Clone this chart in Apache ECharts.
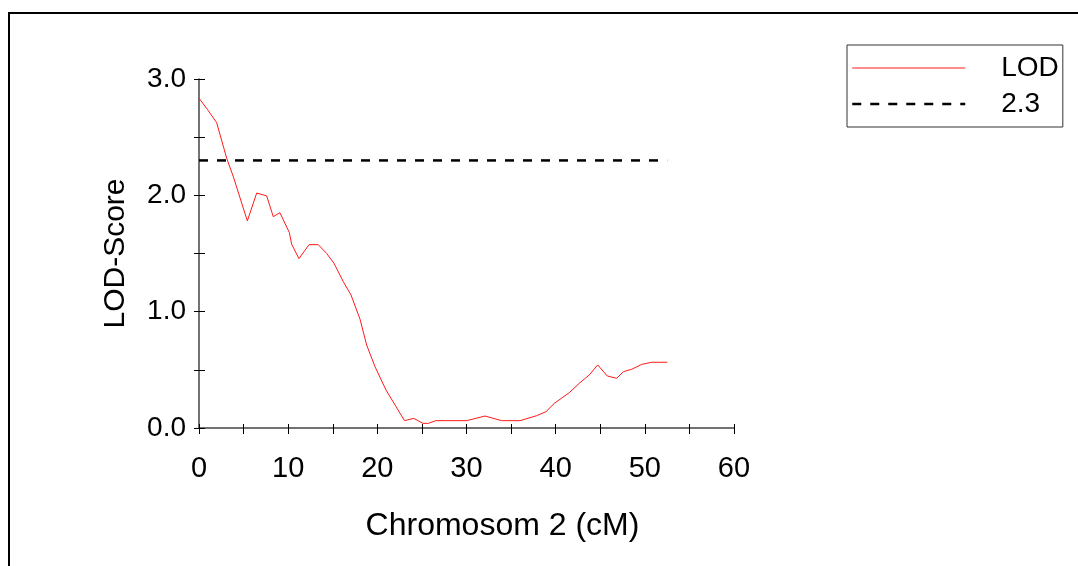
<!DOCTYPE html>
<html>
<head>
<meta charset="utf-8">
<script src="https://cdn.jsdelivr.net/npm/echarts@6/dist/echarts.min.js"></script>
<style>
html,body{margin:0;padding:0;background:#fff;}
#c{width:1078px;height:566px;}
</style>
</head>
<body>
<div id="c"></div>
<script>
const positions = [0, 0.93, 1.98, 3.1, 3.85, 5.42, 6.47, 7.59, 8.33, 9.08, 10.13, 10.39, 11.21, 12.34, 13.38, 14.32, 15.14, 16.18, 17.05, 18.06, 18.8, 19.74, 20.97, 23.05, 24.08, 25.12, 25.72, 26.56, 30.02, 32.07, 33.94, 36.0, 37.87, 38.91, 39.85, 41.53, 42.73, 43.77, 44.71, 45.79, 46.84, 47.59, 48.53, 49.65, 50.77, 52.52];
const lodValues = [2.835, 2.74, 2.625, 2.32, 2.16, 1.78, 2.02, 1.995, 1.817, 1.85, 1.68, 1.58, 1.456, 1.576, 1.576, 1.50, 1.416, 1.258, 1.143, 0.935, 0.714, 0.527, 0.327, 0.063, 0.083, 0.04, 0.04, 0.063, 0.063, 0.103, 0.063, 0.063, 0.106, 0.14, 0.212, 0.304, 0.39, 0.456, 0.542, 0.447, 0.427, 0.484, 0.505, 0.547, 0.565, 0.565];
const thresholdX = [0, 52.5];
const thresholdY = [2.3, 2.3];
const xTitle = 'Chromosom 2 (cM)';
const yTitle = 'LOD-Score';

const FONT = 'Liberation Sans, Arial, sans-serif';
const chart = echarts.init(document.getElementById('c'), null, {renderer: 'canvas'});

const lodData = positions.map((x, i) => [x, lodValues[i]]);
const thrData = thresholdX.map((x, i) => [x, thresholdY[i]]);

const xBase = {type: 'value', min: 0, max: 60, interval: 10, splitLine: {show: false}};
const yBase = {type: 'value', min: 0, max: 3, interval: 1, splitLine: {show: false}};

chart.setOption({
  animation: false,
  backgroundColor: '#fff',
  textStyle: {fontFamily: FONT},
  grid: {left: 199, right: 344, top: 79, bottom: 138, containLabel: false},
  graphic: [{
    type: 'rect', shape: {x: 9, y: 13, width: 1100, height: 600},
    style: {fill: 'none', stroke: '#000', lineWidth: 2}, z: 100
  }],
  legend: {
    orient: 'vertical', left: 847, top: 45,
    padding: [9, 4, 9, 4],
    borderColor: '#333', borderWidth: 1,
    itemWidth: 113, itemHeight: 14, itemGap: 8,
    align: 'left',
    itemStyle: {opacity: 0, borderWidth: 0},
    textStyle: {fontSize: 28, color: '#000', fontFamily: FONT, padding: [0, 4, 0, 31]},
    data: [
      {name: 'LOD', lineStyle: {width: 1, color: '#ff1a1a'}},
      {name: '2.3', lineStyle: {width: 2.5, color: '#000', type: [9, 9]}}
    ]
  },
  xAxis: [
    Object.assign({}, xBase, {
      name: xTitle, nameLocation: 'middle', nameGap: 82,
      nameTextStyle: {fontSize: 32, color: '#000', fontFamily: FONT, padding: [0, 0, 0, 72]},
      axisLine: {show: true, onZero: false, lineStyle: {color: '#444', width: 1.5}},
      axisTick: {show: true, inside: false, length: 6, lineStyle: {color: '#000', width: 1}},
      minorTick: {show: true, splitNumber: 2, length: 6, lineStyle: {color: '#000', width: 1}},
      axisLabel: {fontSize: 29, color: '#000', margin: 26, fontFamily: FONT}
    }),
    Object.assign({}, xBase, {
      position: 'bottom', offset: 0,
      axisLine: {show: false},
      axisTick: {show: true, inside: true, length: 4, lineStyle: {color: '#000', width: 1}},
      minorTick: {show: true, splitNumber: 2, length: 4, lineStyle: {color: '#000', width: 1}},
      axisLabel: {show: false}
    })
  ],
  yAxis: [
    Object.assign({}, yBase, {
      name: yTitle, nameLocation: 'middle', nameGap: 68, nameRotate: 90,
      nameTextStyle: {fontSize: 30, color: '#000', fontFamily: FONT},
      axisLine: {show: true, onZero: false, lineStyle: {color: '#444', width: 1.5}},
      axisTick: {show: true, inside: false, length: 5, lineStyle: {color: '#000', width: 1}},
      minorTick: {show: true, splitNumber: 2, length: 5, lineStyle: {color: '#000', width: 1}},
      axisLabel: {fontSize: 28, color: '#000', margin: 13, fontFamily: FONT,
        padding: [6, 0, 0, 0],
        formatter: v => v.toFixed(1)}
    }),
    Object.assign({}, yBase, {
      position: 'left', offset: 0,
      axisLine: {show: false},
      axisTick: {show: true, inside: true, length: 6, lineStyle: {color: '#000', width: 1}},
      minorTick: {show: true, splitNumber: 2, length: 6, lineStyle: {color: '#000', width: 1}},
      axisLabel: {show: false}
    })
  ],
  series: [
    {
      name: 'LOD', type: 'line', data: lodData, xAxisIndex: 0, yAxisIndex: 0,
      showSymbol: false, symbol: 'none', smooth: false,
      lineStyle: {color: '#ff1a1a', width: 1},
      itemStyle: {color: '#ff1a1a'}
    },
    {
      name: '2.3', type: 'line', data: thrData, xAxisIndex: 0, yAxisIndex: 0,
      showSymbol: false, symbol: 'none',
      lineStyle: {color: '#000', width: 2.5, type: [9, 9]},
      itemStyle: {color: '#000'}
    }
  ]
});
</script>
</body>
</html>
